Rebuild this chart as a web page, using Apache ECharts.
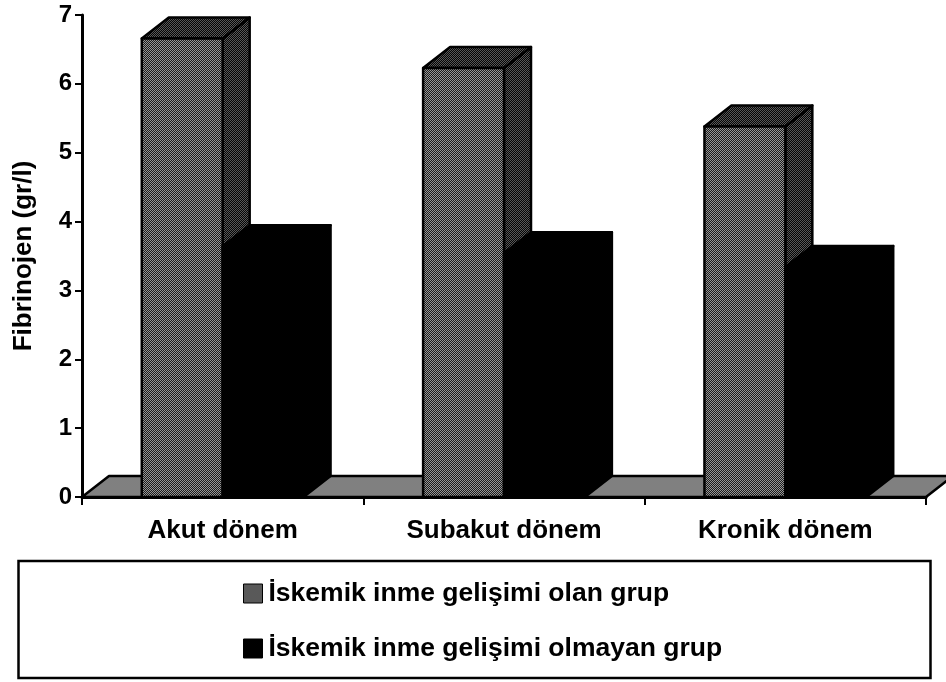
<!DOCTYPE html>
<html>
<head>
<meta charset="utf-8">
<style>html,body{margin:0;padding:0;background:#fff}#chart{width:946px;height:682px}</style>
<script src="https://cdn.jsdelivr.net/npm/echarts@6/dist/echarts.min.js"></script>
</head>
<body>
<div id="chart"></div>
<script>
const categories = ['Akut dönem', 'Subakut dönem', 'Kronik dönem'];
const withStroke = [6.66, 6.23, 5.38];
const withoutStroke = [3.64, 3.54, 3.34];
const seriesNames = ['İskemik inme gelişimi olan grup', 'İskemik inme gelişimi olmayan grup'];
const yTicks = [0, 1, 2, 3, 4, 5, 6, 7];

const FONT = '"Liberation Sans", Arial, sans-serif';
const DEPTH_X = 27, DEPTH_Y = 21;
const BAR_RATIO = 0.2875;

// Two-tone dither tile used as a fill for the hatched bar faces.
function dither(a, b) {
  const c = document.createElement('canvas');
  c.width = c.height = 2;
  const g = c.getContext('2d');
  g.fillStyle = a; g.fillRect(0, 0, 2, 2);
  g.fillStyle = b; g.fillRect(0, 0, 1, 1); g.fillRect(1, 1, 1, 1);
  return { image: c, repeat: 'repeat' };
}
const frontFill = dither('#1c1c1c', '#969696');
const sideFill = dither('#050505', '#585858');

const lineStyle = { stroke: '#000', lineWidth: 2.5, lineJoin: 'round' };

// Draws one extruded column: front face, top face, right side.
function boxRenderer(front, top, side, offset) {
  return function (params, api) {
    const base = api.coord([api.value(0), 0]);
    const head = api.coord([api.value(0), api.value(1)]);
    const w = api.size([1, 0])[0] * BAR_RATIO;
    const x0 = base[0] + offset * w, x1 = x0 + w;
    const y0 = base[1], y1 = head[1];
    const poly = (points, fill) => ({
      type: 'polygon',
      shape: { points },
      style: Object.assign({ fill }, lineStyle)
    });
    return {
      type: 'group',
      children: [
        poly([[x1, y0], [x1 + DEPTH_X, y0 - DEPTH_Y], [x1 + DEPTH_X, y1 - DEPTH_Y], [x1, y1]], side),
        poly([[x0, y1], [x0 + DEPTH_X, y1 - DEPTH_Y], [x1 + DEPTH_X, y1 - DEPTH_Y], [x1, y1]], top),
        poly([[x0, y0], [x1, y0], [x1, y1], [x0, y1]], front)
      ]
    };
  };
}

// The grey floor plane receding from the category axis.
function floorRenderer(params) {
  const c = params.coordSys;
  const yb = c.y + c.height, xl = c.x, xr = c.x + c.width;
  return {
    type: 'polygon',
    shape: { points: [[xl, yb], [xr, yb], [xr + DEPTH_X, yb - DEPTH_Y], [xl + DEPTH_X, yb - DEPTH_Y]] },
    style: Object.assign({ fill: '#808080' }, lineStyle)
  };
}

const chart = echarts.init(document.getElementById('chart'), null, { renderer: 'canvas' });
chart.setOption({
  animation: false,
  backgroundColor: '#fff',
  grid: { left: 82, right: 20, top: 15, bottom: 185 },
  graphic: [{
    type: 'rect',
    z: 0,
    shape: { x: 18.5, y: 561, width: 912, height: 117 },
    style: { fill: '#fff', stroke: '#000', lineWidth: 2.5 }
  }],
  legend: {
    orient: 'vertical',
    left: 238,
    top: 575,
    itemWidth: 19,
    itemHeight: 19,
    itemGap: 28,
    textStyle: { fontFamily: FONT, fontWeight: 'bold', fontSize: 26.5, color: '#000', padding: [0, 0, 0, 1] },
    data: [
      { name: seriesNames[0], icon: 'rect', itemStyle: { color: frontFill, borderColor: '#000', borderWidth: 1 } },
      { name: seriesNames[1], icon: 'rect', itemStyle: { color: '#000', borderColor: '#000', borderWidth: 1 } }
    ]
  },
  xAxis: {
    type: 'category',
    data: categories,
    z: 5,
    axisLine: { lineStyle: { color: '#000', width: 3 } },
    axisTick: { show: true, length: 8, lineStyle: { color: '#000', width: 2 } },
    axisLabel: { fontFamily: FONT, fontWeight: 'bold', fontSize: 26, color: '#000', margin: 21 }
  },
  yAxis: {
    type: 'value',
    min: yTicks[0],
    max: yTicks[yTicks.length - 1],
    interval: 1,
    z: 5,
    name: 'Fibrinojen (gr/l)',
    nameLocation: 'middle',
    nameGap: 45,
    nameRotate: 90,
    nameTextStyle: { fontFamily: FONT, fontWeight: 'bold', fontSize: 26, color: '#000' },
    splitLine: { show: false },
    axisLine: { show: true, lineStyle: { color: '#000', width: 3 } },
    axisTick: { show: true, length: 7, lineStyle: { color: '#000', width: 2 } },
    axisLabel: { fontFamily: FONT, fontWeight: 'bold', fontSize: 24, color: '#000', margin: 10 }
  },
  series: [
    {
      type: 'custom',
      name: 'Zemin',
      silent: true,
      renderItem: floorRenderer,
      data: [[0, 0]],
      encode: { x: 0, y: 1 },
      z: 1
    },
    {
      type: 'custom',
      name: seriesNames[0],
      renderItem: boxRenderer(frontFill, sideFill, sideFill, -1),
      data: withStroke.map((v, i) => [i, v]),
      encode: { x: 0, y: 1 },
      z: 2
    },
    {
      type: 'custom',
      name: seriesNames[1],
      renderItem: boxRenderer('#000', '#000', '#000', 0),
      data: withoutStroke.map((v, i) => [i, v]),
      encode: { x: 0, y: 1 },
      z: 3
    }
  ]
});
</script>
</body>
</html>
